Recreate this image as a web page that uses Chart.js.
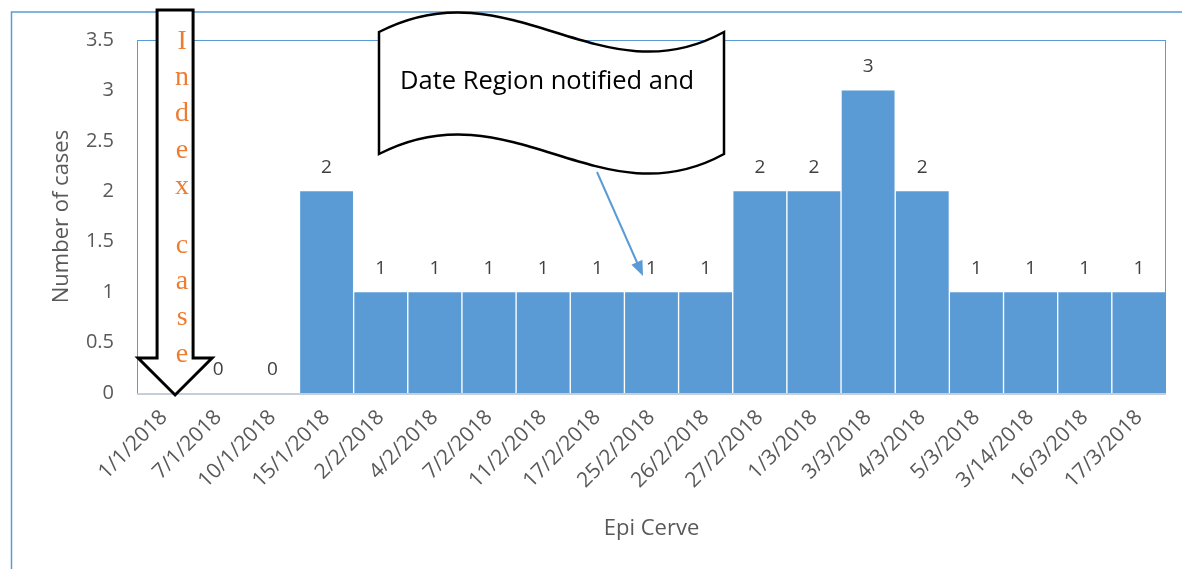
<!DOCTYPE html>
<html><head><meta charset="utf-8">
<script src="https://cdn.jsdelivr.net/npm/chart.js@4.4.1/dist/chart.umd.min.js"></script>
<style>html,body{margin:0;padding:0;background:#fff;} #wrap{width:1182px;height:569px;position:relative;}</style>
</head><body><div id="wrap"><canvas id="c"></canvas></div>
<script>
const categories = ['1/1/2018','7/1/2018','10/1/2018','15/1/2018','2/2/2018','4/2/2018','7/2/2018','11/2/2018','17/2/2018','25/2/2018','26/2/2018','27/2/2018','1/3/2018','3/3/2018','4/3/2018','5/3/2018','3/14/2018','16/3/2018','17/3/2018'];
const cases = [0,0,0,2,1,1,1,1,1,1,1,2,2,3,2,1,1,1,1];
const yTicks = [0,0.5,1,1.5,2,2.5,3,3.5];
const xTitle = 'Epi Cerve';
const yTitle = 'Number of cases';
const bannerText = 'Date Region notified and';
const indexText = 'Index case';

const BLUE = '#5B9BD5';
const SANS = '"Open Sans", "Liberation Sans", sans-serif';

const framePlugin = {
  id: 'frame',
  beforeDraw(chart) {
    const ctx = chart.ctx;
    ctx.save();
    ctx.strokeStyle = BLUE;
    ctx.lineWidth = 1.5;
    ctx.beginPath();
    ctx.moveTo(11.5, 569);
    ctx.lineTo(11.5, 12);
    ctx.lineTo(1182, 12);
    ctx.stroke();
    ctx.restore();
  },
  afterDatasetsDraw(chart) {
    const ctx = chart.ctx, a = chart.chartArea;
    ctx.save();
    ctx.strokeStyle = BLUE;
    ctx.lineWidth = 1;
    ctx.strokeRect(a.left + 0.5, a.top + 0.5, a.right - a.left - 1, a.bottom - a.top);
    ctx.strokeStyle = '#C5CFDA';
    ctx.lineWidth = 2;
    ctx.beginPath();
    ctx.moveTo(a.left, a.bottom + 1);
    ctx.lineTo(a.right, a.bottom + 1);
    ctx.stroke();
    // value labels
    const meta = chart.getDatasetMeta(0);
    ctx.fillStyle = '#404040';
    ctx.font = '19px ' + SANS;
    ctx.textAlign = 'center';
    ctx.textBaseline = 'alphabetic';
    meta.data.forEach((el, i) => {
      ctx.fillText(String(cases[i]), el.x, el.y - 18);
    });
    ctx.restore();
  },
  afterDraw(chart) {
    const ctx = chart.ctx;
    const xs = chart.scales.x;
    ctx.save();
    // Banner
    ctx.beginPath();
    ctx.moveTo(379, 32);
    ctx.bezierCurveTo(510, -36, 600, 100, 724, 32);
    ctx.lineTo(724, 154);
    ctx.bezierCurveTo(600, 222, 510, 86, 379, 154);
    ctx.closePath();
    ctx.fillStyle = '#ffffff';
    ctx.fill();
    ctx.strokeStyle = '#000';
    ctx.lineWidth = 2.5;
    ctx.stroke();
    ctx.fillStyle = '#000';
    ctx.font = '25.5px ' + SANS;
    ctx.textAlign = 'left';
    ctx.textBaseline = 'alphabetic';
    ctx.fillText(bannerText, 400, 89);
    // blue pointer arrow
    const x0 = 597, y0 = 172, x1 = 643, y1 = 276;
    const ang = Math.atan2(y1 - y0, x1 - x0);
    ctx.strokeStyle = BLUE;
    ctx.fillStyle = BLUE;
    ctx.lineWidth = 2;
    ctx.beginPath();
    ctx.moveTo(x0, y0);
    ctx.lineTo(x1 - 12 * Math.cos(ang), y1 - 12 * Math.sin(ang));
    ctx.stroke();
    ctx.beginPath();
    ctx.moveTo(x1, y1);
    ctx.lineTo(x1 - 15 * Math.cos(ang) + 6 * Math.sin(ang), y1 - 15 * Math.sin(ang) - 6 * Math.cos(ang));
    ctx.lineTo(x1 - 15 * Math.cos(ang) - 6 * Math.sin(ang), y1 - 15 * Math.sin(ang) + 6 * Math.cos(ang));
    ctx.closePath();
    ctx.fill();
    // Index case arrow
    const cx = xs.getPixelForValue(0) + 11;
    const bottom = chart.chartArea.bottom;
    ctx.beginPath();
    ctx.moveTo(cx - 18, 10);
    ctx.lineTo(cx + 18, 10);
    ctx.lineTo(cx + 18, bottom - 35);
    ctx.lineTo(cx + 37, bottom - 35);
    ctx.lineTo(cx, bottom + 2);
    ctx.lineTo(cx - 37, bottom - 35);
    ctx.lineTo(cx - 18, bottom - 35);
    ctx.closePath();
    ctx.fillStyle = '#fff';
    ctx.fill();
    ctx.strokeStyle = '#000';
    ctx.lineWidth = 3;
    ctx.lineJoin = 'miter';
    ctx.stroke();
    ctx.fillStyle = '#ED7D31';
    ctx.font = '28px "Liberation Serif", "DejaVu Serif", serif';
    ctx.textAlign = 'center';
    let y = 49;
    for (const ch of indexText) {
      if (ch === ' ') { y += 23; continue; }
      ctx.fillText(ch, cx + 7, y);
      y += 36.2;
    }
    ctx.restore();
  }
};

new Chart(document.getElementById('c'), {
  type: 'bar',
  data: {
    labels: categories,
    datasets: [{
      data: cases,
      backgroundColor: BLUE,
      borderColor: '#ffffff',
      borderWidth: {left: 1, right: 1, top: 0, bottom: 0},
      categoryPercentage: 1,
      barPercentage: 1
    }]
  },
  options: {
    responsive: true,
    maintainAspectRatio: false,
    animation: false,
    layout: {padding: {top: 40, right: 16, left: 0, bottom: 0}},
    plugins: {legend: {display: false}, tooltip: {enabled: false}},
    scales: {
      x: {
        grid: {display: false, drawTicks: false},
        border: {display: false},
        ticks: {
          autoSkip: false, minRotation: 45, maxRotation: 45, padding: 12,
          color: '#595959', font: {family: SANS, size: 21}
        },
        title: {display: true, text: xTitle, color: '#595959', font: {family: SANS, size: 22}, padding: {top: 0, bottom: 27}},
        afterFit(s) { s.height = 176; }
      },
      y: {
        min: 0, max: 3.5,
        grid: {display: false, drawTicks: false},
        border: {display: false},
        afterBuildTicks(s) { s.ticks = yTicks.map(v => ({value: v})); },
        ticks: {
          padding: 23, color: '#595959', font: {family: SANS, size: 20},
          callback: v => String(v)
        },
        title: {display: true, text: yTitle, color: '#595959', font: {family: SANS, size: 22}, padding: {top: 49, bottom: 0}},
        afterFit(s) { s.width = 137; }
      }
    }
  },
  plugins: [framePlugin]
});
</script>
</body></html>
